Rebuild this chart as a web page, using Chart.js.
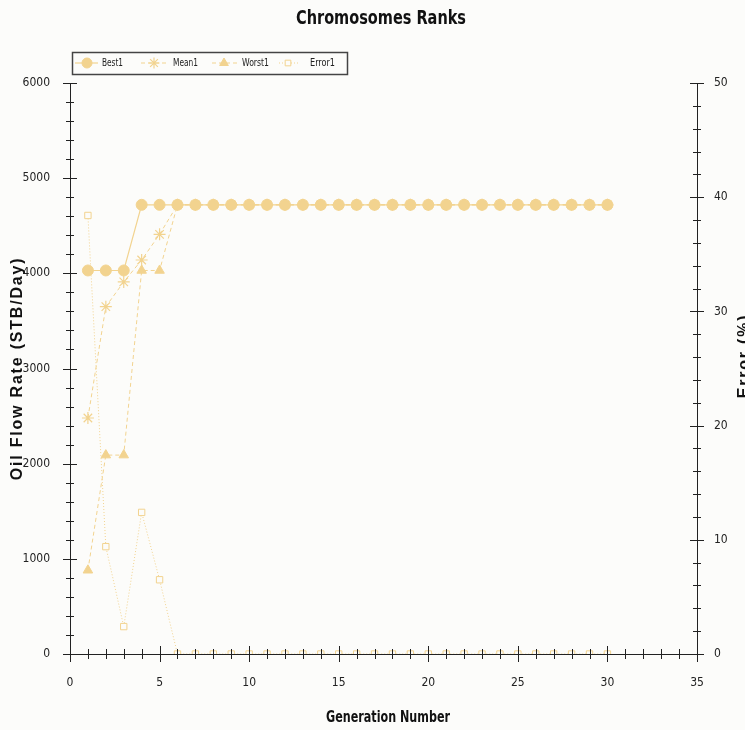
<!DOCTYPE html>
<html><head><meta charset="utf-8">
<script src="https://cdn.jsdelivr.net/npm/chart.js@4.4.1/dist/chart.umd.min.js"></script>
<style>
html,body{margin:0;padding:0;background:#fcfcfa;overflow:hidden;}
canvas{display:block;}
</style></head>
<body><canvas id="c" width="745" height="730" style="width:745px;height:730px"></canvas>
<script>
const generations = [1,2,3,4,5,6,7,8,9,10,11,12,13,14,15,16,17,18,19,20,21,22,23,24,25,26,27,28,29,30];
const best1  = [4030,4030,4030,4720,4720,4720,4720,4720,4720,4720,4720,4720,4720,4720,4720,4720,4720,4720,4720,4720,4720,4720,4720,4720,4720,4720,4720,4720,4720,4720];
const mean1  = [2480,3650,3910,4140,4410,4720,4720,4720,4720,4720,4720,4720,4720,4720,4720,4720,4720,4720,4720,4720,4720,4720,4720,4720,4720,4720,4720,4720,4720,4720];
const worst1 = [880,2090,2090,4030,4030,4720,4720,4720,4720,4720,4720,4720,4720,4720,4720,4720,4720,4720,4720,4720,4720,4720,4720,4720,4720,4720,4720,4720,4720,4720];
const error1 = [38.4,9.4,2.4,12.4,6.5,0,0,0,0,0,0,0,0,0,0,0,0,0,0,0,0,0,0,0,0,0,0,0,0,0];
const xTicks = [0,5,10,15,20,25,30,35];
const yLeftTicks = [0,1000,2000,3000,4000,5000,6000];
const yRightTicks = [0,10,20,30,40,50];
const titleText = 'Chromosomes Ranks';
const xTitle = 'Generation Number';
const yLeftTitle = 'Oil Flow Rate (STB/Day)';
const yRightTitle = 'Error (%)';

const COL = '#f2d38f';
const BG = '#fcfcfa';
const FAM = "'DejaVu Sans Condensed','DejaVu Sans',sans-serif";
const pts = (ys) => generations.map((g,i)=>({x:g,y:ys[i]}));

const texts = {
  id:'texts',
  afterDraw(chart){
    const ctx = chart.ctx, a = chart.chartArea; ctx.save();
    ctx.fillStyle = '#111';
    ctx.textAlign = 'center'; ctx.textBaseline = 'middle';
    ctx.font = "condensed bold 20px " + FAM;
    ctx.fillText(titleText, 381, 19, 170);
    ctx.font = "condensed bold 16px " + FAM;
    ctx.fillText(xTitle, 388, 718, 124);
    ctx.font = "bold 16px 'Liberation Sans',Arial,sans-serif";
    try{ ctx.letterSpacing = '1.8px'; }catch(e){}
    ctx.save(); ctx.translate(18, (a.top+a.bottom)/2); ctx.rotate(-Math.PI/2);
    ctx.fillText(yLeftTitle, 0, 0); ctx.restore();
    ctx.save(); ctx.translate(745, 356); ctx.rotate(-Math.PI/2);
    ctx.fillText(yRightTitle, 0, 0); ctx.restore();
    ctx.restore();
  }
};

const boxLegend = {
  id:'boxLegend',
  afterDraw(chart){
    const ctx = chart.ctx; ctx.save();
    const top = 52, h = 22, left = 72, right = 347;
    ctx.fillStyle = BG; ctx.fillRect(left, top, right-left, h);
    ctx.strokeStyle = '#444'; ctx.lineWidth = 1.5;
    ctx.strokeRect(left+0.5, top+0.5, right-left, h);
    const cy = top + h/2;
    const items = [
      {l0:75, l1:98, m:87, t:102, w:21},
      {l0:141, l1:167, m:154, t:173, w:25},
      {l0:212, l1:237, m:224, t:242, w:27},
      {l0:279, l1:298, m:288, t:310, w:25}
    ];
    chart.data.datasets.forEach((d,i)=>{
      const it = items[i];
      ctx.strokeStyle = d.borderColor; ctx.lineWidth = 1.2;
      ctx.setLineDash(d.borderDash || []);
      ctx.beginPath(); ctx.moveTo(it.l0, cy); ctx.lineTo(it.l1, cy); ctx.stroke();
      ctx.setLineDash([]);
      ctx.fillStyle = d.pointBackgroundColor; ctx.strokeStyle = d.pointBorderColor;
      ctx.lineWidth = d.pointBorderWidth || 1;
      Chart.helpers.drawPoint(ctx, {pointStyle:d.pointStyle, radius:d.pointRadius-0.5, rotation:0, borderWidth:d.pointBorderWidth||1}, it.m, cy);
      ctx.fillStyle = '#222'; ctx.font = "condensed 11px " + FAM; ctx.textBaseline = 'middle'; ctx.textAlign = 'left';
      ctx.fillText(d.label, it.t, cy, it.w);
    });
    ctx.restore();
  }
};

const minorTicks = {
  id:'minorTicks',
  afterDraw(chart){
    const ctx = chart.ctx, a = chart.chartArea;
    const sx = chart.scales.x, sl = chart.scales.y, sr = chart.scales.y1;
    ctx.save(); ctx.strokeStyle = '#222'; ctx.lineWidth = 1;
    ctx.beginPath();
    for(let v=0; v<=35; v++){
      const px = Math.round(sx.getPixelForValue(v))+0.5;
      const major = v%5===0;
      ctx.moveTo(px, a.bottom - (major?8:5)); ctx.lineTo(px, a.bottom + (major?8:5));
    }
    for(let v=0; v<=6000; v+=200){
      const py = Math.round(sl.getPixelForValue(v))+0.5;
      const major = v%1000===0;
      ctx.moveTo(a.left - (major?7:4), py); ctx.lineTo(a.left + (major?7:4), py);
    }
    for(let v=0; v<=50; v+=2){
      const py = Math.round(sr.getPixelForValue(v))+0.5;
      const major = v%10===0;
      ctx.moveTo(a.right - (major?7:4), py); ctx.lineTo(a.right + (major?7:4), py);
    }
    ctx.stroke(); ctx.restore();
  }
};

const tickFont = {family:FAM, size:12, style:'condensed'};

new Chart(document.getElementById('c'), {
  type:'line',
  data:{ datasets:[
    {label:'Best1', data:pts(best1), yAxisID:'y', borderColor:COL, backgroundColor:COL, borderWidth:1.2,
     pointStyle:'circle', pointRadius:5.5, pointBorderColor:COL, pointBackgroundColor:COL, pointBorderWidth:1},
    {label:'Mean1', data:pts(mean1), yAxisID:'y', borderColor:COL, backgroundColor:COL, borderWidth:1, borderDash:[4,3],
     pointStyle:'star', pointRadius:6, pointBorderColor:COL, pointBackgroundColor:COL, pointBorderWidth:1.2},
    {label:'Worst1', data:pts(worst1), yAxisID:'y', borderColor:COL, backgroundColor:COL, borderWidth:1, borderDash:[4,3],
     pointStyle:'triangle', pointRadius:5.5, pointBorderColor:COL, pointBackgroundColor:COL, pointBorderWidth:1},
    {label:'Error1', data:pts(error1), yAxisID:'y1', borderColor:COL, backgroundColor:BG, borderWidth:1, borderDash:[1,2],
     pointStyle:'rect', pointRadius:4.5, pointBorderColor:COL, pointBackgroundColor:BG, pointBorderWidth:1}
  ]},
  options:{
    responsive:false, animation:false, devicePixelRatio:1,
    layout:{padding:{left:0,right:0,top:83,bottom:0}},
    plugins:{ title:{display:false}, legend:{display:false}, tooltip:{enabled:false} },
    scales:{
      x:{type:'linear', min:0, max:35, afterBuildTicks(s){ s.ticks = xTicks.map(v=>({value:v})); },
        afterFit(s){ s.height = 76; },
        border:{display:true,color:'#222',width:1},
        grid:{display:false, drawTicks:false},
        ticks:{color:'#222', font:tickFont, padding:22, maxRotation:0, callback:v=>String(v)}},
      y:{type:'linear', position:'left', min:0, max:6000, afterBuildTicks(s){ s.ticks = yLeftTicks.map(v=>({value:v})); },
        afterFit(s){ s.width = 70; },
        border:{display:true,color:'#222',width:1},
        grid:{display:false, drawTicks:false},
        ticks:{color:'#222', font:tickFont, padding:20, callback:v=>String(v)}},
      y1:{type:'linear', position:'right', min:0, max:50, afterBuildTicks(s){ s.ticks = yRightTicks.map(v=>({value:v})); },
        afterFit(s){ s.width = 48; },
        border:{display:true,color:'#222',width:1},
        grid:{display:false, drawTicks:false},
        ticks:{color:'#222', font:tickFont, padding:17, callback:v=>String(v)}}
    }
  },
  plugins:[boxLegend, minorTicks, texts]
});
</script></body></html>
